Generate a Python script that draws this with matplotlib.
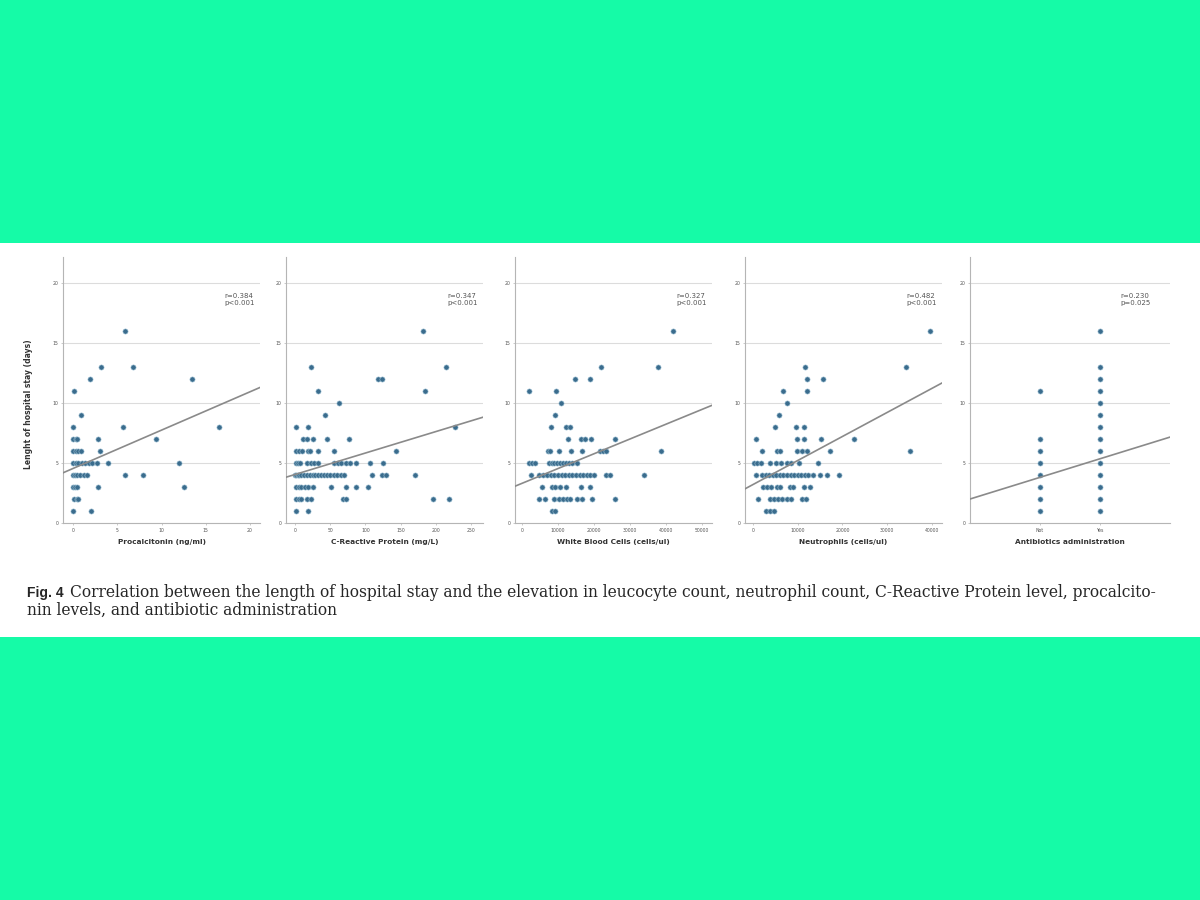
import numpy as np
import matplotlib
matplotlib.use('Agg')
import matplotlib.pyplot as plt
from matplotlib.patches import Rectangle

# length of stay (days) -> x values of the markers in that row
pct_by_stay = {
    16: [5.9], 13: [3.2, 6.8], 12: [1.9, 13.5], 11: [0.1], 9: [0.9],
    8: [0.0, 5.6, 16.5],
    7: [0.0, 0.3, 0.5, 2.8, 9.4],
    6: [0.0, 0.3, 0.6, 0.9, 3.1],
    5: [0.0, 0.3, 0.6, 1.0, 1.4, 1.8, 2.1, 2.7, 4.0, 12.0],
    4: [0.0, 0.2, 0.5, 0.8, 1.2, 1.6, 5.9, 7.9],
    3: [0.0, 0.2, 0.5, 2.8, 12.5],
    2: [0.1, 0.4, 0.6],
    1: [0.0, 2.0],
}
crp_by_stay = {
    16: [182], 13: [23, 214], 12: [118, 124], 11: [33, 184], 10: [63], 9: [43],
    8: [1, 18, 227],
    7: [12, 17, 25, 46, 77],
    6: [1, 6, 10, 18, 21, 32, 56, 143],
    5: [1, 4, 7, 17, 23, 27, 33, 56, 61, 66, 72, 78, 86, 106, 125],
    4: [0, 2, 4, 6, 9, 13, 17, 21, 25, 29, 33, 37, 41, 45, 50, 55, 60, 65, 70,
        109, 123, 129, 171],
    3: [1, 5, 9, 14, 19, 25, 51, 72, 87, 103],
    2: [1, 6, 9, 17, 22, 68, 72, 196, 218],
    1: [1, 19],
}
wbc_by_stay = {
    16: [41900], 13: [21900, 37700], 12: [14800, 18800], 11: [1900, 9400],
    10: [10800], 9: [9200],
    8: [8100, 12300, 13400],
    7: [12700, 16400, 17400, 19200, 25700],
    6: [7100, 7900, 10200, 13600, 16700, 21800, 22600, 23200, 38600],
    5: [1900, 2700, 3700, 7400, 8300, 9000, 9800, 10600, 11400, 12200, 13000,
        14000, 15300],
    4: [2400, 4600, 5800, 7000, 8000, 9000, 10000, 11000, 12000, 13000, 14000,
        15000, 16000, 17000, 18000, 19000, 20000, 23200, 24500, 34000],
    3: [5600, 8300, 9300, 10600, 12300, 16400, 19000],
    2: [4800, 6500, 9000, 10300, 11500, 12600, 13400, 15400, 16700, 19400, 25700],
    1: [8300, 9200],
}
neut_by_stay = {
    16: [39500], 13: [11600, 34200], 12: [12100, 15600], 11: [6800, 12100],
    10: [7700], 9: [5900],
    8: [4900, 9700, 11400],
    7: [700, 9800, 11400, 15300, 22500],
    6: [2100, 5300, 6000, 9900, 11000, 12100, 17200, 35100],
    5: [300, 1000, 1800, 3800, 5200, 6200, 7500, 8600, 10300, 14600],
    4: [600, 2000, 2800, 3600, 4400, 5200, 6000, 6800, 7600, 8400, 9200, 10000,
        10800, 11600, 12400, 13300, 15000, 16500, 19200],
    3: [2300, 3200, 4000, 5300, 6000, 8300, 9000, 11500, 12800],
    2: [1100, 3700, 4600, 5500, 6500, 7600, 8600, 11000, 11800],
    1: [2900, 3900, 4600],
}
abx_groups = ['Not', 'Yes']
abx_no_stay = [1, 2, 3, 4, 5, 6, 7, 11]
abx_yes_stay = [1, 2, 3, 4, 5, 6, 7, 8, 9, 10, 11, 12, 13, 16]

x_labels = ['Procalcitonin (ng/ml)', 'C-Reactive Protein (mg/L)',
            'White Blood Cells (cells/ul)', 'Neutrophils (cells/ul)',
            'Antibiotics administration']
r_values = ['0.384', '0.347', '0.327', '0.482', '0.230']
p_values = ['<0.001', '<0.001', '<0.001', '<0.001', '=0.025']
# fit lines
fit_intercept = [4.55, 4.05, 3.31, 3.21, 3.81]
fit_slope = [0.32, 0.0179, 0.0001234, 0.0002007, 1.55]

caption_1 = ('Correlation between the length of hospital stay and the elevation in '
             'leucocyte count, neutrophil count, C-Reactive Protein level, procalcito-')
caption_2 = 'nin levels, and antibiotic administration'


def unpack(by_stay):
    xs, ys = [], []
    for stay, vals in by_stay.items():
        xs += vals
        ys += [stay] * len(vals)
    return xs, ys


panels = [unpack(pct_by_stay), unpack(crp_by_stay), unpack(wbc_by_stay),
          unpack(neut_by_stay),
          ([0] * len(abx_no_stay) + [1] * len(abx_yes_stay), abx_no_stay + abx_yes_stay)]

xlims = [(-1.13, 21.13), (-12.8, 267), (-1944, 52778), (-1788, 42235), (-1.167, 2.167)]
xticks = [[0, 5, 10, 15, 20], [0, 50, 100, 150, 200, 250],
          [0, 10000, 20000, 30000, 40000, 50000], [0, 10000, 20000, 30000, 40000], [0, 1]]
lefts = [63, 286, 515, 745, 970]
widths = [197, 197, 197, 197, 200]
ann_x = [0.82, 0.82, 0.82, 0.82, 0.75]

W, H = 1200, 900
fig = plt.figure(figsize=(12, 9), dpi=100, facecolor='#15FBA7')
fig.add_artist(Rectangle((0, (H - 637) / H), 1, (637 - 243) / H, transform=fig.transFigure,
                         facecolor='white', edgecolor='none', zorder=0))

for i, (xs, ys) in enumerate(panels):
    ax = fig.add_axes([lefts[i] / W, (H - 523) / H, widths[i] / W, 266 / H])
    ax.set_facecolor('none')
    ax.scatter(xs, ys, s=14, c='#3A6C8D', edgecolors='#a4c6d8', linewidths=0.4, zorder=3)
    xl = np.array(xlims[i])
    ax.plot(xl, fit_intercept[i] + fit_slope[i] * xl, color='#8a8a8a', lw=1.2, zorder=4)
    ax.set_xlim(xl)
    ax.set_ylim(0, 22.2)
    ax.set_yticks([0, 5, 10, 15, 20])
    ax.set_xticks(xticks[i])
    if i == 4:
        ax.set_xticklabels(abx_groups)
    ax.grid(axis='y', color='#dcdcdc', lw=0.8)
    ax.set_axisbelow(True)
    for s in ['top', 'right']:
        ax.spines[s].set_visible(False)
    for s in ['left', 'bottom']:
        ax.spines[s].set_color('#b5b5b5')
        ax.spines[s].set_linewidth(0.8)
    ax.tick_params(labelsize=3.3, colors='#b5b5b5', labelcolor='#555555',
                   length=1.5, width=0.5, pad=2)
    ax.set_xlabel(x_labels[i], fontsize=5.3, fontweight='bold', color='#333333')
    ax.xaxis.set_label_coords(0.5, -0.06)
    if i == 0:
        ax.set_ylabel('Lenght of hospital stay (days)', fontsize=5.5, fontweight='bold',
                      color='#333333')
        ax.yaxis.set_label_coords(-0.152, 0.447)
    ax.text(ann_x[i], 0.865, f'r={r_values[i]}\np{p_values[i]}', transform=ax.transAxes,
            fontsize=5.0, va='top', ha='left', color='#555555', linespacing=1.3)

# caption
fig.text(27 / W, (H - 597) / H, 'Fig. 4', family='Liberation Sans', fontweight='bold',
         fontsize=10, color='#262626')
cap1 = fig.text(70 / W, (H - 597) / H, caption_1, family='DejaVu Serif',
                fontsize=10, color='#262626')
cap2 = fig.text(27 / W, (H - 615) / H, caption_2, family='DejaVu Serif',
                fontsize=10, color='#262626')
fig.canvas.draw()
w = cap1.get_window_extent().width
size = 10 * 1100 / w
cap1.set_fontsize(size)
cap2.set_fontsize(size)

fig.savefig('out.png', dpi=100, facecolor=fig.get_facecolor())
